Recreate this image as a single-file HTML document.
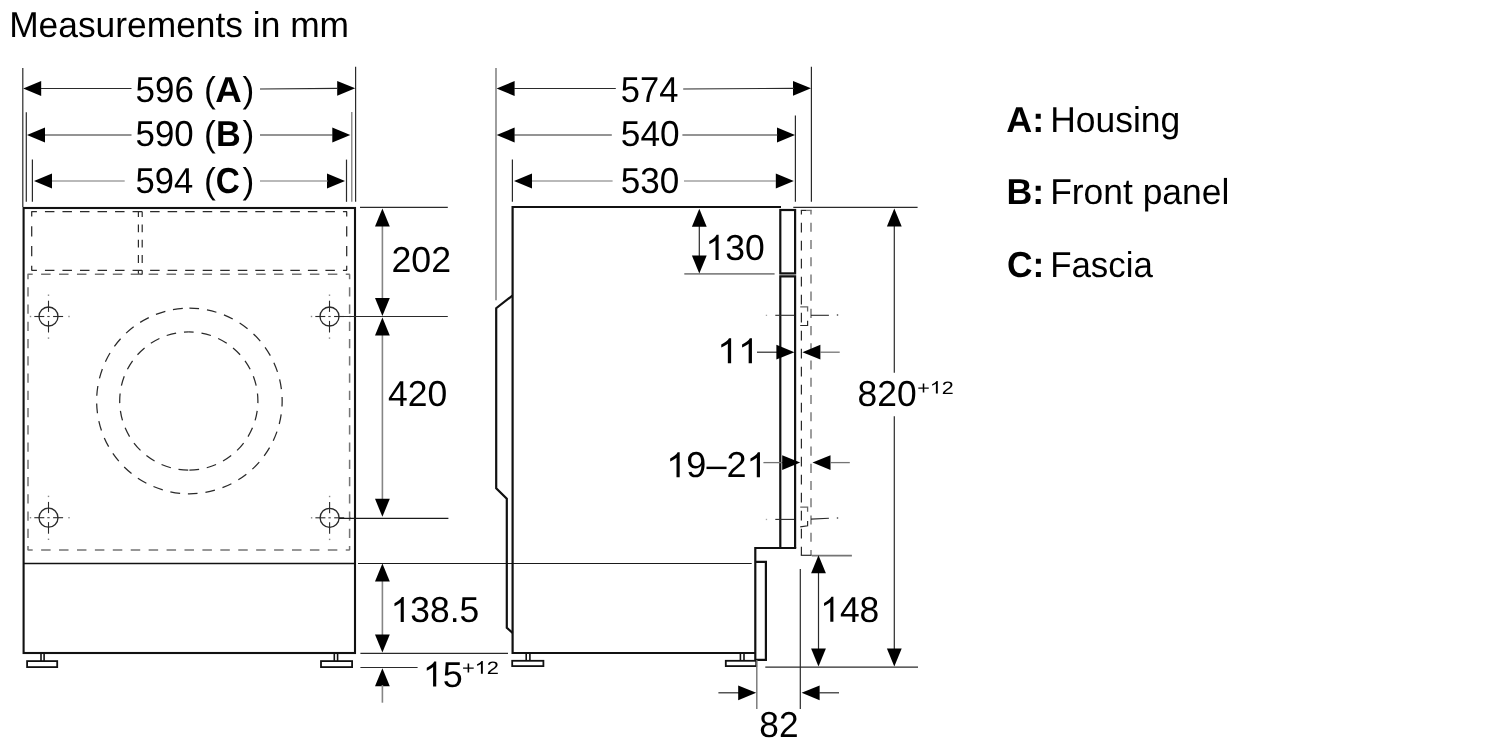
<!DOCTYPE html>
<html><head><meta charset="utf-8"><title>Measurements in mm</title>
<style>
html,body{margin:0;padding:0;background:#fff;}
body{width:1500px;height:750px;overflow:hidden;}
svg{display:block;font-family:"Liberation Sans",sans-serif;fill:#000;text-rendering:geometricPrecision;filter:grayscale(1);}
</style></head><body>
<svg width="1500" height="750" viewBox="0 0 1500 750">
<rect x="0" y="0" width="1500" height="750" fill="#ffffff" stroke="none"/>
<g transform="translate(9.17,37.3) scale(0.9820,1)"><text font-size="36">Measurements in mm</text></g>
<line x1="22.8" y1="68" x2="22.8" y2="207" stroke="#2a2a2a" stroke-width="1.2" />
<line x1="26.3" y1="112.2" x2="26.3" y2="201.8" stroke="#2a2a2a" stroke-width="1.2" />
<line x1="32.4" y1="159.6" x2="32.4" y2="201.8" stroke="#2a2a2a" stroke-width="1.2" />
<line x1="355.6" y1="66.8" x2="355.6" y2="201.8" stroke="#2a2a2a" stroke-width="1.2" />
<line x1="351.8" y1="112" x2="351.8" y2="201.8" stroke="#747474" stroke-width="1.2" />
<line x1="346.5" y1="159.6" x2="346.5" y2="201.8" stroke="#2a2a2a" stroke-width="1.2" />
<polygon points="23.2,88.5 41.2,81.1 41.2,95.9" fill="#000"/>
<line x1="41" y1="88.5" x2="131.5" y2="88.5" stroke="#2a2a2a" stroke-width="1.2" />
<polygon points="355.2,88.3 337.2,80.9 337.2,95.7" fill="#000"/>
<line x1="260" y1="89" x2="338" y2="88.3" stroke="#2a2a2a" stroke-width="1.2" />
<polygon points="27,135 45,127.6 45,142.4" fill="#000"/>
<line x1="45" y1="135" x2="131.5" y2="135" stroke="#2a2a2a" stroke-width="1.2" />
<polygon points="350.3,135 332.3,127.6 332.3,142.4" fill="#000"/>
<line x1="260" y1="135" x2="333" y2="135" stroke="#2a2a2a" stroke-width="1.2" />
<polygon points="34,181 52,173.6 52,188.4" fill="#000"/>
<line x1="52" y1="181" x2="124.7" y2="181" stroke="#747474" stroke-width="1.2" />
<polygon points="345,181 327,173.6 327,188.4" fill="#000"/>
<line x1="260" y1="181" x2="328" y2="181" stroke="#747474" stroke-width="1.2" />
<g transform="translate(135.60,101.6) scale(0.9709,1)"><text font-size="36">596</text></g>
<g transform="translate(203.97,101.6) scale(0.9850,1)"><text font-size="36">(</text></g>
<g transform="translate(215.18,101.6) scale(1.0199,1)"><text font-size="36" font-weight="bold">A</text></g>
<g transform="translate(242.43,101.6) scale(0.9850,1)"><text font-size="36">)</text></g>
<g transform="translate(135.61,145.5) scale(0.9679,1)"><text font-size="36">590</text></g>
<g transform="translate(203.97,145.5) scale(0.9850,1)"><text font-size="36">(</text></g>
<g transform="translate(216.07,145.5) scale(0.9517,1)"><text font-size="36" font-weight="bold">B</text></g>
<g transform="translate(242.43,145.5) scale(0.9850,1)"><text font-size="36">)</text></g>
<g transform="translate(135.62,192.9) scale(0.9601,1)"><text font-size="36">594</text></g>
<g transform="translate(203.97,192.9) scale(0.9850,1)"><text font-size="36">(</text></g>
<g transform="translate(215.87,192.9) scale(0.9245,1)"><text font-size="36" font-weight="bold">C</text></g>
<g transform="translate(242.43,192.9) scale(0.9850,1)"><text font-size="36">)</text></g>
<rect x="23.6" y="208" width="331.4" height="445" fill="none" stroke="#111" stroke-width="2.1" />
<line x1="23.6" y1="563.5" x2="355" y2="563.5" stroke="#111" stroke-width="1.3" />
<line x1="31.4" y1="211.6" x2="347" y2="211.6" stroke="#2a2a2a" stroke-width="1.25" stroke-dasharray="9.5 8.03" stroke-dashoffset="4"/>
<line x1="31.4" y1="270.3" x2="347" y2="270.3" stroke="#2a2a2a" stroke-width="1.25" stroke-dasharray="9.5 8.03" stroke-dashoffset="4"/>
<line x1="31.7" y1="211.6" x2="31.7" y2="270.3" stroke="#2a2a2a" stroke-width="1.25" stroke-dasharray="10.2 9.6" stroke-dashoffset="5.2"/>
<line x1="346.7" y1="211.6" x2="346.7" y2="270.3" stroke="#2a2a2a" stroke-width="1.25" stroke-dasharray="10.2 9.6" stroke-dashoffset="5.2"/>
<line x1="138.4" y1="211.6" x2="138.4" y2="274.4" stroke="#2a2a2a" stroke-width="1.2" stroke-dasharray="7.9 7.4" stroke-dashoffset="2.5"/>
<line x1="142.2" y1="211.6" x2="142.2" y2="274.4" stroke="#2a2a2a" stroke-width="1.2" stroke-dasharray="7.9 7.4" stroke-dashoffset="2.5"/>
<line x1="138.4" y1="274.2" x2="142.2" y2="274.2" stroke="#2a2a2a" stroke-width="1.2" />
<line x1="27.6" y1="274.2" x2="349.8" y2="274.2" stroke="#747474" stroke-width="1.5" stroke-dasharray="9.5 8.42" stroke-dashoffset="4.4"/>
<line x1="27.6" y1="550.1" x2="349.8" y2="550.1" stroke="#747474" stroke-width="1.5" stroke-dasharray="9.5 8.42" stroke-dashoffset="4.4"/>
<line x1="28" y1="274.2" x2="28" y2="550.1" stroke="#747474" stroke-width="1.5" stroke-dasharray="9.3 7.95" stroke-dashoffset="4.3"/>
<line x1="349.6" y1="274.2" x2="349.6" y2="550.1" stroke="#747474" stroke-width="1.5" stroke-dasharray="9.3 7.95" stroke-dashoffset="4.3"/>
<path d="M189.4 308.2 A92.8 92.8 0 0 1 189.4 493.8 A92.8 92.8 0 0 1 189.4 308.2" fill="none" stroke="#2a2a2a" stroke-width="1.25" stroke-dasharray="9.8 7.87"/>
<path d="M188.8 470.1 A69.1 69.1 0 0 1 188.8 331.9" fill="none" stroke="#2a2a2a" stroke-width="1.25" stroke-dasharray="9.8 7.8" stroke-dashoffset="17.0"/>
<path d="M188.8 470.1 A69.1 69.1 0 0 0 188.8 331.9" fill="none" stroke="#2a2a2a" stroke-width="1.25" stroke-dasharray="9.8 7.8" stroke-dashoffset="17.0"/>
<circle cx="48.5" cy="316.5" r="9.5" fill="none" stroke="#2a2a2a" stroke-width="1.3"/>
<line x1="34.3" y1="316.5" x2="44.3" y2="316.5" stroke="#2a2a2a" stroke-width="1.1" />
<line x1="53.1" y1="316.5" x2="63.1" y2="316.5" stroke="#2a2a2a" stroke-width="1.1" />
<line x1="48.5" y1="300.7" x2="48.5" y2="311.9" stroke="#2a2a2a" stroke-width="1.1" />
<line x1="48.5" y1="320.9" x2="48.5" y2="332.5" stroke="#2a2a2a" stroke-width="1.1" />
<rect x="47.3" y="315.95" width="2.4" height="1.1" fill="#444"/>
<rect x="29.8" y="315.8" width="1.4" height="1.4" fill="#888"/>
<rect x="68.3" y="315.8" width="1.4" height="1.4" fill="#888"/>
<rect x="47.8" y="294.5" width="1.4" height="1.4" fill="#888"/>
<rect x="47.8" y="337.40000000000003" width="1.4" height="1.4" fill="#888"/>
<circle cx="329.5" cy="316.5" r="9.5" fill="none" stroke="#2a2a2a" stroke-width="1.3"/>
<line x1="315.3" y1="316.5" x2="325.3" y2="316.5" stroke="#2a2a2a" stroke-width="1.1" />
<line x1="334.1" y1="316.5" x2="344.1" y2="316.5" stroke="#2a2a2a" stroke-width="1.1" />
<line x1="329.5" y1="300.7" x2="329.5" y2="311.9" stroke="#2a2a2a" stroke-width="1.1" />
<line x1="329.5" y1="320.9" x2="329.5" y2="332.5" stroke="#2a2a2a" stroke-width="1.1" />
<rect x="328.3" y="315.95" width="2.4" height="1.1" fill="#444"/>
<rect x="310.8" y="315.8" width="1.4" height="1.4" fill="#888"/>
<rect x="349.3" y="315.8" width="1.4" height="1.4" fill="#888"/>
<rect x="328.8" y="294.5" width="1.4" height="1.4" fill="#888"/>
<rect x="328.8" y="337.40000000000003" width="1.4" height="1.4" fill="#888"/>
<circle cx="48.5" cy="517.7" r="9.5" fill="none" stroke="#2a2a2a" stroke-width="1.3"/>
<line x1="34.3" y1="517.7" x2="44.3" y2="517.7" stroke="#2a2a2a" stroke-width="1.1" />
<line x1="53.1" y1="517.7" x2="63.1" y2="517.7" stroke="#2a2a2a" stroke-width="1.1" />
<line x1="48.5" y1="501.90000000000003" x2="48.5" y2="513.1" stroke="#2a2a2a" stroke-width="1.1" />
<line x1="48.5" y1="522.1" x2="48.5" y2="533.7" stroke="#2a2a2a" stroke-width="1.1" />
<rect x="47.3" y="517.1500000000001" width="2.4" height="1.1" fill="#444"/>
<rect x="29.8" y="517.0" width="1.4" height="1.4" fill="#888"/>
<rect x="68.3" y="517.0" width="1.4" height="1.4" fill="#888"/>
<rect x="47.8" y="495.70000000000005" width="1.4" height="1.4" fill="#888"/>
<rect x="47.8" y="538.6" width="1.4" height="1.4" fill="#888"/>
<circle cx="329.6" cy="517.8" r="9.5" fill="none" stroke="#2a2a2a" stroke-width="1.3"/>
<line x1="315.40000000000003" y1="517.8" x2="325.40000000000003" y2="517.8" stroke="#2a2a2a" stroke-width="1.1" />
<line x1="334.20000000000005" y1="517.8" x2="344.20000000000005" y2="517.8" stroke="#2a2a2a" stroke-width="1.1" />
<line x1="329.6" y1="501.99999999999994" x2="329.6" y2="513.1999999999999" stroke="#2a2a2a" stroke-width="1.1" />
<line x1="329.6" y1="522.1999999999999" x2="329.6" y2="533.8" stroke="#2a2a2a" stroke-width="1.1" />
<rect x="328.40000000000003" y="517.25" width="2.4" height="1.1" fill="#444"/>
<rect x="310.90000000000003" y="517.0999999999999" width="1.4" height="1.4" fill="#888"/>
<rect x="349.40000000000003" y="517.0999999999999" width="1.4" height="1.4" fill="#888"/>
<rect x="328.90000000000003" y="495.79999999999995" width="1.4" height="1.4" fill="#888"/>
<rect x="328.90000000000003" y="538.6999999999999" width="1.4" height="1.4" fill="#888"/>
<line x1="41.0" y1="653.5" x2="41.0" y2="661.1" stroke="#111" stroke-width="1.6" />
<line x1="44.1" y1="653.5" x2="44.1" y2="661.1" stroke="#111" stroke-width="1.6" />
<rect x="27.1" y="661.1" width="30.1" height="6.0" fill="#fff" stroke="#111" stroke-width="1.8" />
<line x1="334.3" y1="653.5" x2="334.3" y2="661.1" stroke="#111" stroke-width="1.6" />
<line x1="337.6" y1="653.5" x2="337.6" y2="661.1" stroke="#111" stroke-width="1.6" />
<rect x="321" y="661.1" width="31.1" height="6.0" fill="#fff" stroke="#111" stroke-width="1.8" />
<line x1="360" y1="207.4" x2="447.8" y2="207.4" stroke="#2a2a2a" stroke-width="1.2" />
<line x1="339" y1="316.5" x2="447.8" y2="316.5" stroke="#2a2a2a" stroke-width="1.2" />
<line x1="339" y1="518.4" x2="448.4" y2="518.4" stroke="#1a1a1a" stroke-width="1.2" />
<line x1="358" y1="563.5" x2="751.7" y2="563.5" stroke="#1a1a1a" stroke-width="1.2" />
<line x1="360.4" y1="653.4" x2="508" y2="653.4" stroke="#2a2a2a" stroke-width="1.2" />
<line x1="360.4" y1="667.5" x2="417.6" y2="667.5" stroke="#2a2a2a" stroke-width="1.2" />
<line x1="382.4" y1="225" x2="382.4" y2="300" stroke="#858585" stroke-width="1.6" />
<polygon points="382.4,208.6 375.0,226.6 389.8,226.6" fill="#000"/>
<polygon points="382.4,316 375.0,298 389.8,298" fill="#000"/>
<line x1="382.4" y1="334" x2="382.4" y2="500" stroke="#858585" stroke-width="1.6" />
<polygon points="382.4,317.4 375.0,335.4 389.8,335.4" fill="#000"/>
<polygon points="382.4,516.8 375.0,498.8 389.8,498.8" fill="#000"/>
<line x1="382.4" y1="580" x2="382.4" y2="636" stroke="#858585" stroke-width="1.6" />
<polygon points="382.4,563.6 375.0,581.6 389.8,581.6" fill="#000"/>
<polygon points="382.4,652.6 375.0,634.6 389.8,634.6" fill="#000"/>
<polygon points="382.4,668.2 375.0,686.2 389.8,686.2" fill="#000"/>
<line x1="382.4" y1="685" x2="382.4" y2="702.7" stroke="#858585" stroke-width="1.6" />
<g transform="translate(391.52,271.7) scale(0.9908,1)"><text font-size="36">202</text></g>
<g transform="translate(388.11,406.3) scale(0.9865,1)"><text font-size="36">420</text></g>
<g transform="translate(390.61,622.1) scale(0.9835,1)"><path transform="translate(0.000,0) scale(0.017578,-0.017086)" d="M763 0H583V1147Q518 1085 412.5 1023Q307 961 223 930V1104Q374 1175 487 1276Q600 1377 647 1472H763Z"/><text x="20.016" font-size="36">38.5</text></g>
<g transform="translate(422.85,686.6) scale(0.9983,1)"><path transform="translate(0.000,0) scale(0.017578,-0.017086)" d="M763 0H583V1147Q518 1085 412.5 1023Q307 961 223 930V1104Q374 1175 487 1276Q600 1377 647 1472H763Z"/><text x="20.016" font-size="36">5</text></g>
<g transform="translate(461.91,673.7) scale(1.2156,1)"><text x="0.000" font-size="18">+</text><path transform="translate(10.512,0) scale(0.008789,-0.008543)" d="M763 0H583V1147Q518 1085 412.5 1023Q307 961 223 930V1104Q374 1175 487 1276Q600 1377 647 1472H763Z"/><text x="20.520" font-size="18">2</text></g>
<line x1="496" y1="68" x2="496" y2="300.2" stroke="#747474" stroke-width="1.4" />
<line x1="512.4" y1="159.6" x2="512.4" y2="201.8" stroke="#2a2a2a" stroke-width="1.2" />
<line x1="811.4" y1="66.8" x2="811.4" y2="201.8" stroke="#2a2a2a" stroke-width="1.2" />
<line x1="795.4" y1="115.4" x2="795.4" y2="201.8" stroke="#2a2a2a" stroke-width="1.2" />
<polygon points="496.6,88.5 514.6,81.1 514.6,95.9" fill="#000"/>
<line x1="514" y1="88.5" x2="615.8" y2="88.5" stroke="#2a2a2a" stroke-width="1.2" />
<polygon points="811,88.3 793,80.9 793,95.7" fill="#000"/>
<line x1="683.2" y1="89" x2="794" y2="88.3" stroke="#2a2a2a" stroke-width="1.2" />
<polygon points="496.6,135 514.6,127.6 514.6,142.4" fill="#000"/>
<line x1="514" y1="135" x2="611.8" y2="135" stroke="#2a2a2a" stroke-width="1.2" />
<polygon points="795,135 777,127.6 777,142.4" fill="#000"/>
<line x1="682.4" y1="135" x2="778" y2="135" stroke="#2a2a2a" stroke-width="1.2" />
<polygon points="514,181 532,173.6 532,188.4" fill="#000"/>
<line x1="532" y1="181" x2="612.6" y2="181" stroke="#747474" stroke-width="1.2" />
<polygon points="793.8,181 775.8,173.6 775.8,188.4" fill="#000"/>
<line x1="684" y1="181" x2="776" y2="181" stroke="#747474" stroke-width="1.2" />
<g transform="translate(620.82,101.6) scale(0.9583,1)"><text font-size="36">574</text></g>
<g transform="translate(620.79,145.5) scale(0.9783,1)"><text font-size="36">540</text></g>
<g transform="translate(620.80,192.9) scale(0.9748,1)"><text font-size="36">530</text></g>
<path d="M781 207.0 L512.6 207.0 L512.6 653 L755.3 653" fill="none" stroke="#111" stroke-width="2.2" />
<path d="M512.4 295.6 L496.2 308.2 L496.2 488.2 L506.8 498.8 L506.8 627.8 L512.6 632.8" fill="none" stroke="#111" stroke-width="2.2" />
<rect x="780.3" y="210" width="14.8" height="63.4" fill="none" stroke="#111" stroke-width="2.2" />
<path d="M780.3 548 L780.3 276.4 L795.1 276.4 L795.1 548" fill="none" stroke="#111" stroke-width="2.2" />
<path d="M796.2 548 L755.3 548 L755.3 659.8 L765.9 659.8 L765.9 561.9 L756 561.9" fill="none" stroke="#111" stroke-width="2.2" />
<line x1="801.4" y1="210.4" x2="801.4" y2="555.3" stroke="#2a2a2a" stroke-width="1.2" stroke-dasharray="9.8 8.2" stroke-dashoffset="5.6"/>
<line x1="811.0" y1="210.4" x2="811.0" y2="555.3" stroke="#747474" stroke-width="1.4" stroke-dasharray="9.1 8.12" stroke-dashoffset="4.9"/>
<line x1="800.8" y1="210.4" x2="806" y2="210.4" stroke="#2a2a2a" stroke-width="1.2" />
<line x1="806" y1="210.4" x2="811.7" y2="210.4" stroke="#747474" stroke-width="1.3" />
<line x1="800.8" y1="555.3" x2="811.6" y2="555.3" stroke="#2a2a2a" stroke-width="1.2" />
<line x1="775.3" y1="315.3" x2="794.2" y2="315.3" stroke="#2a2a2a" stroke-width="1.1" />
<line x1="811" y1="315.3" x2="828.9" y2="315.3" stroke="#2a2a2a" stroke-width="1.1" />
<rect x="765.8" y="314.7" width="1.3" height="1.3" fill="#aaa"/>
<rect x="836.8" y="314.3" width="1.4" height="1.4" fill="#444"/>
<path d="M800.2 306.9 L807.6 306.9 L807.6 311.5" fill="none" stroke="#666" stroke-width="1.3" />
<path d="M807.6 320.8 L807.6 325.5 L800.2 325.5" fill="none" stroke="#2a2a2a" stroke-width="1.2" />
<line x1="775.3" y1="519.4" x2="794.2" y2="519.4" stroke="#2a2a2a" stroke-width="1.1" />
<line x1="811" y1="519.1" x2="828.9" y2="518.3" stroke="#2a2a2a" stroke-width="1.1" />
<rect x="765.8" y="518.8" width="1.3" height="1.3" fill="#aaa"/>
<rect x="836.8" y="517.3" width="1.4" height="1.4" fill="#444"/>
<path d="M800.2 507.1 L807.6 507.1 L807.6 511.70000000000005" fill="none" stroke="#666" stroke-width="1.3" />
<path d="M807.6 521.0999999999999 L807.6 525.8 L800.2 526.8" fill="none" stroke="#2a2a2a" stroke-width="1.2" />
<line x1="526.2" y1="653.5" x2="526.2" y2="660.8" stroke="#111" stroke-width="1.6" />
<line x1="529.9" y1="653.5" x2="529.9" y2="660.8" stroke="#111" stroke-width="1.6" />
<rect x="512.2" y="660.8" width="31.2" height="5.3" fill="#fff" stroke="#111" stroke-width="1.8" />
<line x1="740.4" y1="653.5" x2="740.4" y2="660.8" stroke="#111" stroke-width="1.6" />
<line x1="744" y1="653.5" x2="744" y2="660.8" stroke="#111" stroke-width="1.6" />
<rect x="725.8" y="660.8" width="30.4" height="5.3" fill="#fff" stroke="#111" stroke-width="1.8" />
<line x1="793.3" y1="207.4" x2="917.6" y2="207.4" stroke="#2a2a2a" stroke-width="1.2" />
<line x1="684.3" y1="273.8" x2="774.6" y2="273.8" stroke="#858585" stroke-width="1.7" />
<line x1="699.3" y1="226" x2="699.3" y2="256" stroke="#2a2a2a" stroke-width="1.2" />
<polygon points="699.3,208.8 691.9,226.8 706.7,226.8" fill="#000"/>
<polygon points="699.3,273.4 691.9,255.4 706.7,255.4" fill="#000"/>
<g transform="translate(705.39,260.0) scale(0.9868,1)"><path transform="translate(0.000,0) scale(0.017578,-0.017086)" d="M763 0H583V1147Q518 1085 412.5 1023Q307 961 223 930V1104Q374 1175 487 1276Q600 1377 647 1472H763Z"/><text x="20.016" font-size="36">30</text></g>
<line x1="757" y1="352.2" x2="777" y2="352.2" stroke="#2a2a2a" stroke-width="1.2" />
<polygon points="794.4,352.2 776.4,344.8 776.4,359.6" fill="#000"/>
<polygon points="802.4,352.2 820.4,344.8 820.4,359.6" fill="#000"/>
<line x1="820" y1="352.2" x2="839.7" y2="352.2" stroke="#747474" stroke-width="1.3" />
<g transform="translate(717.18,363.3) scale(1.0400,1)"><path transform="translate(0.000,0) scale(0.017578,-0.017086)" d="M763 0H583V1147Q518 1085 412.5 1023Q307 961 223 930V1104Q374 1175 487 1276Q600 1377 647 1472H763Z"/><path transform="translate(20.016,0) scale(0.017578,-0.017086)" d="M763 0H583V1147Q518 1085 412.5 1023Q307 961 223 930V1104Q374 1175 487 1276Q600 1377 647 1472H763Z"/></g>
<line x1="763.4" y1="462.6" x2="784" y2="462.6" stroke="#747474" stroke-width="1.3" />
<polygon points="800.2,462.6 782.2,455.2 782.2,470.0" fill="#000"/>
<polygon points="812.5,462.6 830.5,455.2 830.5,470.0" fill="#000"/>
<line x1="830" y1="462.6" x2="849.8" y2="462.6" stroke="#747474" stroke-width="1.3" />
<g transform="translate(666.23,477.3) scale(1.0027,1)"><path transform="translate(0.000,0) scale(0.017578,-0.017086)" d="M763 0H583V1147Q518 1085 412.5 1023Q307 961 223 930V1104Q374 1175 487 1276Q600 1377 647 1472H763Z"/><text x="20.016" font-size="36">9–2</text><path transform="translate(80.064,0) scale(0.017578,-0.017086)" d="M763 0H583V1147Q518 1085 412.5 1023Q307 961 223 930V1104Q374 1175 487 1276Q600 1377 647 1472H763Z"/></g>
<line x1="894.3" y1="225" x2="894.3" y2="372.8" stroke="#2a2a2a" stroke-width="1.2" />
<line x1="894.3" y1="416.2" x2="894.3" y2="650" stroke="#2a2a2a" stroke-width="1.2" />
<polygon points="894.3,208.6 886.9,226.6 901.7,226.6" fill="#000"/>
<polygon points="894.3,666.6 886.9,648.6 901.7,648.6" fill="#000"/>
<g transform="translate(857.61,406.2) scale(0.9832,1)"><text font-size="36">820</text></g>
<g transform="translate(917.22,393.6) scale(1.1947,1)"><text x="0.000" font-size="18">+</text><path transform="translate(10.512,0) scale(0.008789,-0.008543)" d="M763 0H583V1147Q518 1085 412.5 1023Q307 961 223 930V1104Q374 1175 487 1276Q600 1377 647 1472H763Z"/><text x="20.520" font-size="18">2</text></g>
<line x1="811.8" y1="555.7" x2="851.9" y2="555.7" stroke="#747474" stroke-width="1.7" />
<line x1="818.5" y1="573" x2="818.5" y2="650" stroke="#2a2a2a" stroke-width="1.2" />
<polygon points="818.5,555.2 811.1,573.2 825.9,573.2" fill="#000"/>
<polygon points="818.5,666.6 811.1,648.6 825.9,648.6" fill="#000"/>
<g transform="translate(820.20,621.8) scale(0.9846,1)"><path transform="translate(0.000,0) scale(0.017578,-0.017086)" d="M763 0H583V1147Q518 1085 412.5 1023Q307 961 223 930V1104Q374 1175 487 1276Q600 1377 647 1472H763Z"/><text x="20.016" font-size="36">48</text></g>
<line x1="765.3" y1="667.2" x2="918" y2="667.2" stroke="#2a2a2a" stroke-width="1.3" />
<line x1="756.8" y1="660" x2="756.8" y2="708.9" stroke="#747474" stroke-width="1.4" />
<line x1="800.3" y1="569" x2="800.3" y2="708.9" stroke="#2a2a2a" stroke-width="1.2" />
<line x1="718.4" y1="692.8" x2="739" y2="692.8" stroke="#2a2a2a" stroke-width="1.2" />
<polygon points="756.2,692.8 738.2,685.4 738.2,700.2" fill="#000"/>
<polygon points="801.6,692.8 819.6,685.4 819.6,700.2" fill="#000"/>
<line x1="819" y1="692.8" x2="839" y2="692.8" stroke="#2a2a2a" stroke-width="1.2" />
<g transform="translate(759.31,736.5) scale(0.9797,1)"><text font-size="36">82</text></g>
<g transform="translate(1006.30,132.1) scale(0.9982,1)"><text font-size="36" font-weight="bold">A:</text></g>
<g transform="translate(1050.17,132.1) scale(0.9842,1)"><text font-size="36">Housing</text></g>
<g transform="translate(1006.48,204.4) scale(0.9932,1)"><text font-size="36" font-weight="bold">B:</text></g>
<g transform="translate(1050.17,204.4) scale(0.9838,1)"><text font-size="36">Front panel</text></g>
<g transform="translate(1006.89,276.6) scale(0.9813,1)"><text font-size="36" font-weight="bold">C:</text></g>
<g transform="translate(1050.21,276.6) scale(0.9676,1)"><text font-size="36">Fascia</text></g>
</svg>
</body></html>
